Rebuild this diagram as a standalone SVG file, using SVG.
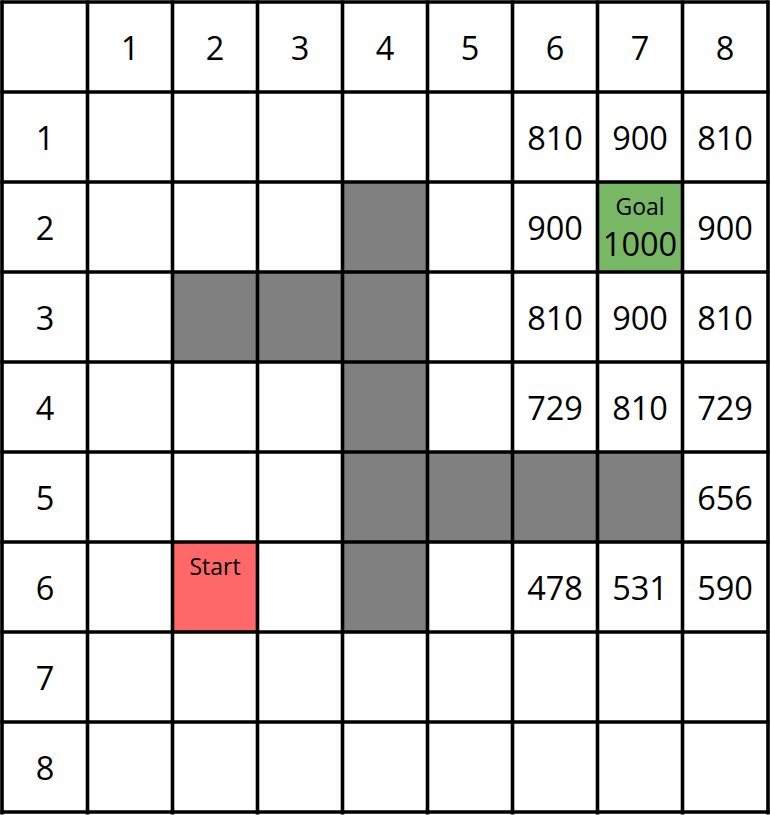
<svg xmlns="http://www.w3.org/2000/svg" width="770" height="815" viewBox="0 0 770 815">
<style>
.bg{fill:#ffffff}
.wall{fill:#808080}
.goal{fill:#78b865}
.start{fill:#ff6868}
.grid line{stroke:#000;stroke-width:3.6}
text{font-family:"Open Sans","Noto Sans","DejaVu Sans",sans-serif;fill:#000;text-anchor:middle}
.n{font-size:32.5px}
.s{font-size:23px}
</style>
<rect x="0" y="0" width="770" height="815" class="bg"/>
<g id="walls">
<rect class="wall" x="342.5" y="182" width="85" height="90"/>
<rect class="wall" x="172.5" y="272" width="255" height="90"/>
<rect class="wall" x="342.5" y="362" width="85" height="90"/>
<rect class="wall" x="342.5" y="452" width="340" height="90"/>
<rect class="wall" x="342.5" y="542" width="85" height="90"/>
</g>
<g id="goal">
<rect class="goal" x="597.5" y="182" width="85" height="90"/>
<text class="s" x="640" y="215">Goal</text>
<text class="n" x="640" y="256">1000</text>
</g>
<g id="start">
<rect class="start" x="172.5" y="542" width="85" height="90"/>
<text class="s" x="215" y="575">Start</text>
</g>
<g id="headers">
<text class="n" x="130" y="59.5">1</text>
<text class="n" x="215" y="59.5">2</text>
<text class="n" x="300" y="59.5">3</text>
<text class="n" x="385" y="59.5">4</text>
<text class="n" x="470" y="59.5">5</text>
<text class="n" x="555" y="59.5">6</text>
<text class="n" x="640" y="59.5">7</text>
<text class="n" x="725" y="59.5">8</text>
<text class="n" x="45" y="149.5">1</text>
<text class="n" x="45" y="239.5">2</text>
<text class="n" x="45" y="329.5">3</text>
<text class="n" x="45" y="419.5">4</text>
<text class="n" x="45" y="509.5">5</text>
<text class="n" x="45" y="599.5">6</text>
<text class="n" x="45" y="689.5">7</text>
<text class="n" x="45" y="779.5">8</text>
</g>
<g id="values">
<text class="n" x="555" y="149.5">810</text>
<text class="n" x="640" y="149.5">900</text>
<text class="n" x="725" y="149.5">810</text>
<text class="n" x="555" y="239.5">900</text>
<text class="n" x="725" y="239.5">900</text>
<text class="n" x="555" y="329.5">810</text>
<text class="n" x="640" y="329.5">900</text>
<text class="n" x="725" y="329.5">810</text>
<text class="n" x="555" y="419.5">729</text>
<text class="n" x="640" y="419.5">810</text>
<text class="n" x="725" y="419.5">729</text>
<text class="n" x="725" y="509.5">656</text>
<text class="n" x="555" y="599.5">478</text>
<text class="n" x="640" y="599.5">531</text>
<text class="n" x="725" y="599.5">590</text>
</g>
<g id="connectors" class="grid">
<line x1="2" y1="0.5" x2="2" y2="814.5"/>
<line x1="87.5" y1="0.5" x2="87.5" y2="814.5"/>
<line x1="172.5" y1="0.5" x2="172.5" y2="814.5"/>
<line x1="257.5" y1="0.5" x2="257.5" y2="814.5"/>
<line x1="342.5" y1="0.5" x2="342.5" y2="814.5"/>
<line x1="427.5" y1="0.5" x2="427.5" y2="814.5"/>
<line x1="512.5" y1="0.5" x2="512.5" y2="814.5"/>
<line x1="597.5" y1="0.5" x2="597.5" y2="814.5"/>
<line x1="682.5" y1="0.5" x2="682.5" y2="814.5"/>
<line x1="768" y1="0.5" x2="768" y2="814.5"/>
<line x1="0.5" y1="2" x2="769.5" y2="2"/>
<line x1="0.5" y1="92" x2="769.5" y2="92"/>
<line x1="0.5" y1="182" x2="769.5" y2="182"/>
<line x1="0.5" y1="272" x2="769.5" y2="272"/>
<line x1="0.5" y1="362" x2="769.5" y2="362"/>
<line x1="0.5" y1="452" x2="769.5" y2="452"/>
<line x1="0.5" y1="542" x2="769.5" y2="542"/>
<line x1="0.5" y1="632" x2="769.5" y2="632"/>
<line x1="0.5" y1="722" x2="769.5" y2="722"/>
<line x1="0.5" y1="812" x2="769.5" y2="812"/>
</g>
</svg>
